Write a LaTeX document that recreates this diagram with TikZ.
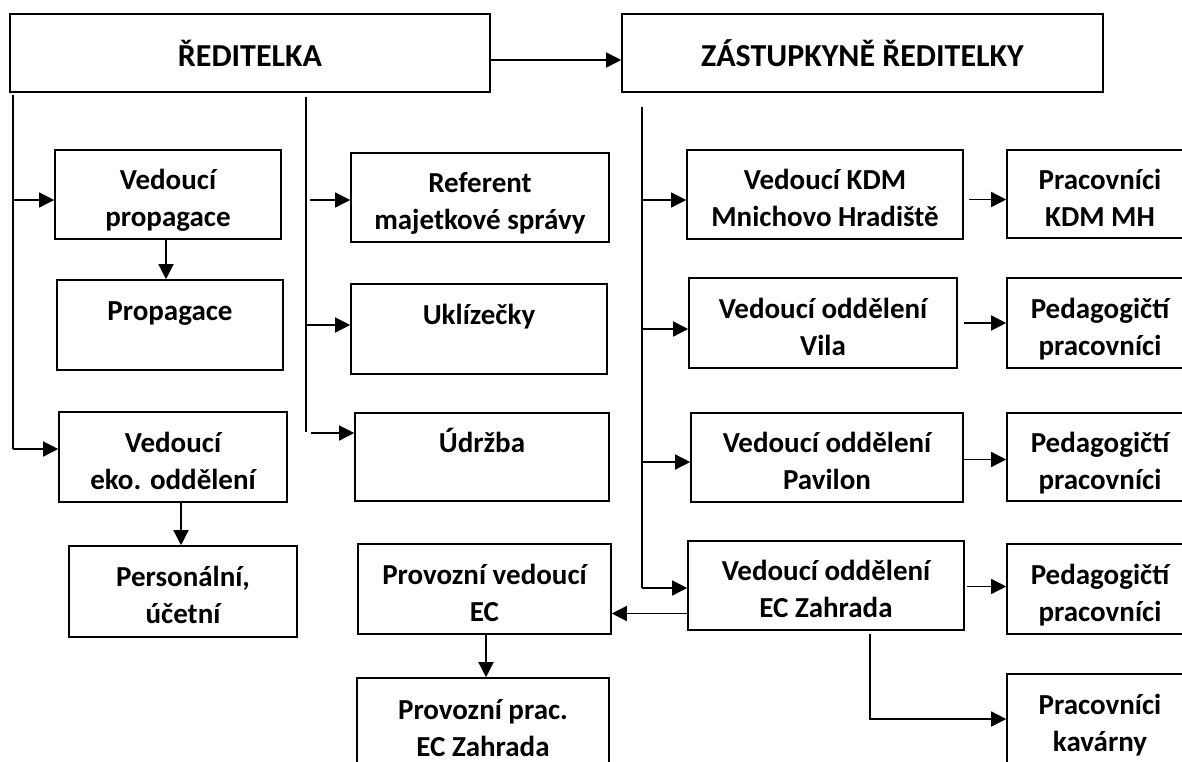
\documentclass[tikz,border=0pt]{standalone}
\usepackage{fontspec}
\setmainfont{Carlito}
\usetikzlibrary{arrows.meta}
\newcommand\tstrut{\rule{0pt}{27pt}}
\begin{document}
\begin{tikzpicture}[x=1pt,y=-1pt,
  box/.style={draw, line width=1.6pt, rectangle, inner sep=0pt, align=center,
    text depth=0pt, font=\fontsize{29}{37}\selectfont\bfseries},
  titlebox/.style={box, font=\fontsize{32}{37}\selectfont\bfseries},
  conn/.style={line width=1.4pt},
  arr/.style={line width=1.4pt, -{Triangle[length=15pt,width=15pt]}}]
\useasboundingbox (0,0) rectangle (1182,761);
\clip (0,0) rectangle (1182,761);
% boxes
\node[titlebox, minimum width=480, minimum height=78] (red)  at (250,53)    {ŘEDITELKA};
\node[titlebox, minimum width=481, minimum height=78] (zast) at (862.5,53)  {ZÁSTUPKYNĚ ŘEDITELKY};
\node[box, minimum width=226, minimum height=89] (vprop) at (168,194.5) {\tstrut Vedoucí\\propagace};
\node[box, minimum width=226, minimum height=90] (prop) at (170,325)   {\tstrut Propagace\\\mbox{}};
\node[box, minimum width=228, minimum height=90] (veko) at (173,457)   {\tstrut Vedoucí\\eko. oddělení};
\node[box, minimum width=228, minimum height=91] (pers) at (183,591.5) {\tstrut Personální,\\účetní};
\node[box, minimum width=258, minimum height=89] (ref)  at (480,197.5) {\tstrut Referent\\majetkové správy};
\node[box, minimum width=256, minimum height=90] (ukl)  at (479,329)   {\tstrut Uklízečky\\\mbox{}};
\node[box, minimum width=254, minimum height=88] (udr)  at (482,457)   {\tstrut Údržba\\\mbox{}};
\node[box, minimum width=276, minimum height=89] (kdm)  at (825,194.5) {\tstrut Vedoucí KDM\\Mnichovo Hradiště};
\node[box, minimum width=186, minimum height=88] (pkdm) at (1100,194)  {\tstrut Pracovníci\\KDM MH};
\node[box, minimum width=268, minimum height=90] (vila) at (823,323)   {\tstrut Vedoucí oddělení\\Vila};
\node[box, minimum width=186, minimum height=90] (ped1) at (1100,323)  {\tstrut Pedagogičtí\\pracovníci};
\node[box, minimum width=272, minimum height=89] (pav)  at (827,457.5) {\tstrut Vedoucí oddělení\\Pavilon};
\node[box, minimum width=186, minimum height=88] (ped2) at (1100,457)  {\tstrut Pedagogičtí\\pracovníci};
\node[box, minimum width=276, minimum height=89] (ecz)  at (826,585.5) {\tstrut Vedoucí oddělení\\EC Zahrada};
\node[box, minimum width=186, minimum height=90] (ped3) at (1100,589)  {\tstrut Pedagogičtí\\pracovníci};
\node[box, minimum width=253, minimum height=90] (pve)  at (484.5,589) {\tstrut Provozní vedoucí\\EC};
\node[box, minimum width=252, minimum height=92] (ppr)  at (483,724)   {\tstrut Provozní prac.\\EC Zahrada};
\node[box, minimum width=186, minimum height=90] (kav)  at (1100,719)  {\tstrut Pracovníci\\kavárny};
% trunk coordinates
\coordinate (lt) at (13,95);
\coordinate (lb) at (13,449);
\coordinate (la) at (13,200);
\coordinate (mt) at (306,97);
\coordinate (mb) at (306,432);
\coordinate (ma) at (310,200);
\coordinate (mu) at (306,325);
\coordinate (md) at (311,433);
\coordinate (rt) at (642,107);
\coordinate (rb) at (642,588);
\coordinate (r1) at (642,200);
\coordinate (r2) at (642,329);
\coordinate (r3) at (642,462);
% connectors
\draw[arr] ([yshift=-7pt]red.east) -- ([yshift=-7pt]zast.west);
\draw[conn] (lt) -- (lb);
\draw[arr] (la) -- (la -| vprop.west);
\draw[arr] (lb) -- (lb -| veko.west);
\draw[arr] ([xshift=-2pt]vprop.south) -- ([xshift=-2pt]vprop.south |- prop.north);
\draw[arr] ([xshift=8pt]veko.south) -- ([xshift=8pt]veko.south |- pers.north);
\draw[conn] (mt) -- (mb);
\draw[arr] (ma) -- (ma -| ref.west);
\draw[arr] (mu) -- (mu -| ukl.west);
\draw[arr] (md) -- (md -| udr.west);
\draw[conn] (rt) -- (rb);
\draw[arr] (r1) -- (r1 -| kdm.west);
\draw[arr] (r2) -- (r2 -| vila.west);
\draw[arr] (r3) -- (r3 -| pav.west);
\draw[arr] (rb) -- (rb -| ecz.west);
\draw[arr] ([xshift=5pt,yshift=-5pt]kdm.east) -- ([yshift=-5pt]kdm.east -| pkdm.west);
\draw[arr] ([xshift=6pt]vila.east) -- (vila.east -| ped1.west);
\draw[arr] ([xshift=-2pt,yshift=-2pt]pav.east) -- ([yshift=-2pt]pav.east -| ped2.west);
\draw[arr] ([xshift=2pt,yshift=-1pt]ecz.east) -- ([yshift=-1pt]ecz.east -| ped3.west);
\draw[arr] ([yshift=-28pt]ecz.west) -- ([yshift=-28pt]ecz.west -| pve.east);
\draw[arr] ([xshift=1.5pt]pve.south) -- ([xshift=1.5pt]pve.south |- ppr.north);
\draw[arr] ([xshift=44pt,yshift=-3pt]ecz.south) |- (kav.west);
\end{tikzpicture}
\end{document}
